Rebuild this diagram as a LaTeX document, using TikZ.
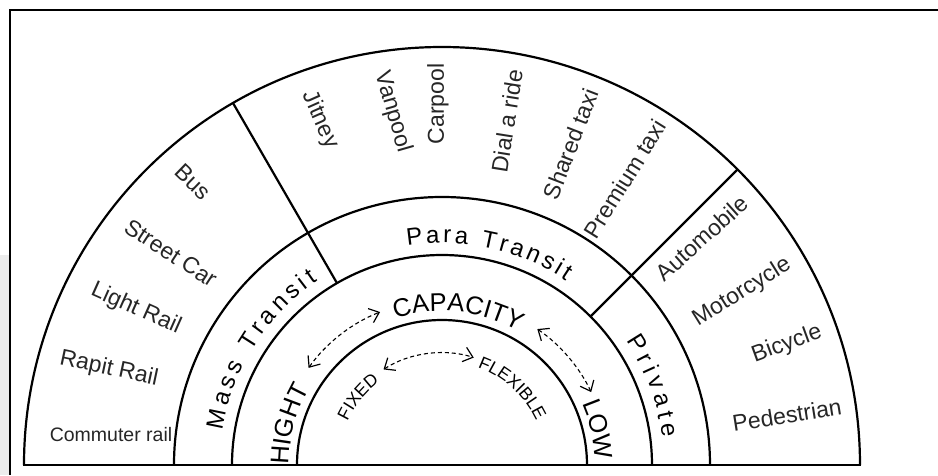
\documentclass[tikz,border=0pt]{standalone}
\usepackage{fontspec}
\setmainfont{Liberation Sans}
\usetikzlibrary{arrows.meta, decorations.text}

\newcommand{\modefont}{\fontsize{23}{25}\selectfont}
\newcommand{\bandfont}{\fontsize{24}{26}\selectfont}
\newcommand{\capafont}{\fontsize{25.5}{28}\selectfont}
\newcommand{\flexfont}{\fontsize{17.5}{19}\selectfont}

\tikzset{
  ring/.style={line width=2.2pt},
  mode/.style={font=\modefont, inner sep=0pt, text=black!85},
  dasharr/.style={line width=1.1pt, dash pattern=on 4pt off 3pt,
    {Straight Barb[length=9pt,width=15pt,line width=1.2pt,sep=3pt]}-{Straight Barb[length=9pt,width=15pt,line width=1.2pt,sep=3pt]}},
}

\begin{document}
\begin{tikzpicture}[x=1pt, y=1pt]
\useasboundingbox (-442,-10) rectangle (496,465);
% frame
\fill[gray!15] (-442,-10) rectangle (-432,210);
\draw[line width=1.6pt] (496,455) -- (-432,455) -- (-432,-10);

% rings and dividers
\draw[ring] (180:418) arc[start angle=180, end angle=0, radius=418];
\draw[ring] (180:268) arc[start angle=180, end angle=0, radius=268];
\draw[ring] (180:210) arc[start angle=180, end angle=0, radius=210];
\draw[ring] (180:145) arc[start angle=180, end angle=0, radius=145];
\draw[ring] (120:210) -- (120:418);
\draw[ring] (45:210) -- (45:418);
\draw[line width=2.8pt] (-419,0) -- (419,0);

% mass transit modes
\node[mode, rotate=-44] (bus) at (-249,283) {Bus};
\node[mode, rotate=-33] (streetcar) at (-271,212) {Street Car};
\node[mode, rotate=-24] (lightrail) at (-306,156) {Light Rail};
\node[mode, rotate=-12] (rapitrail) at (-333,96) {Rapit Rail};
\node[mode, font=\fontsize{19.5}{21}\selectfont] (commuter) at (-331,30) {Commuter rail};

% para transit modes
\node[mode, rotate=-66] (jitney) at (-122,345) {Jitney};
\node[mode, rotate=-74] (vanpool) at (-49,353) {Vanpool};
\node[mode, rotate=90] (carpool) at (-4,361) {Carpool};
\node[mode, rotate=81] (dialride) at (65,344) {Dial a ride};
\node[mode, rotate=69] (sharedtaxi) at (129,321) {Shared taxi};
\node[mode, rotate=58] (premiumtaxi) at (183,286) {Premium taxi};

% private modes
\node[mode, rotate=42] (automobile) at (260,227) {Automobile};
\node[mode, rotate=32] (motorcycle) at (300,173) {Motorcycle};
\node[mode, rotate=20] (bicycle) at (345,121) {Bicycle};
\node[mode, rotate=9] (pedestrian) at (345,50) {Pedestrian};

% transit groups
\path[decorate, decoration={text along path, text={|\bandfont|Mass Transit}, text align={fit to path}}]
  (171:222) arc[start angle=171, end angle=124, radius=222];
\path[decorate, decoration={text along path, text={|\bandfont|Para Transit}, text align={fit to path}}]
  (99:222) arc[start angle=99, end angle=56, radius=222];
\path[decorate, decoration={text along path, text={|\bandfont|Private}, text align={fit to path}}]
  (34:222) arc[start angle=34, end angle=7, radius=222];

% capacity
\path[decorate, decoration={text along path, text={|\capafont|HIGHT}, text align=center}]
  (190:153) arc[start angle=190, end angle=140, radius=153];
\path[decorate, decoration={text along path, text={|\capafont|CAPACITY}, text align=center}]
  (112:154) arc[start angle=112, end angle=56, radius=154];
\path[decorate, decoration={text along path, text={|\capafont|LOW}, text align=center}]
  (38:153) arc[start angle=38, end angle=-12, radius=153];
\coordinate (hi) at (145:165);
\coordinate (ca) at (111:165);
\coordinate (cb) at (56:166);
\coordinate (lo) at (25:166);
\draw[dasharr] (hi) arc[start angle=145, end angle=111, radius=165];
\draw[dasharr] (cb) arc[start angle=56, end angle=25, radius=166];

% flexibility
\path[decorate, decoration={text along path, text={|\flexfont|FIXED}, text align=center}]
  (165:104) arc[start angle=165, end angle=117, radius=104];
\path[decorate, decoration={text along path, text={|\flexfont|FLEXIBLE}, text align=center}]
  (80:104) arc[start angle=80, end angle=15, radius=104];
\coordinate (fx) at (123:112);
\coordinate (fl) at (72:112);
\draw[dasharr] (fx) arc[start angle=123, end angle=72, radius=112];
\end{tikzpicture}
\end{document}
